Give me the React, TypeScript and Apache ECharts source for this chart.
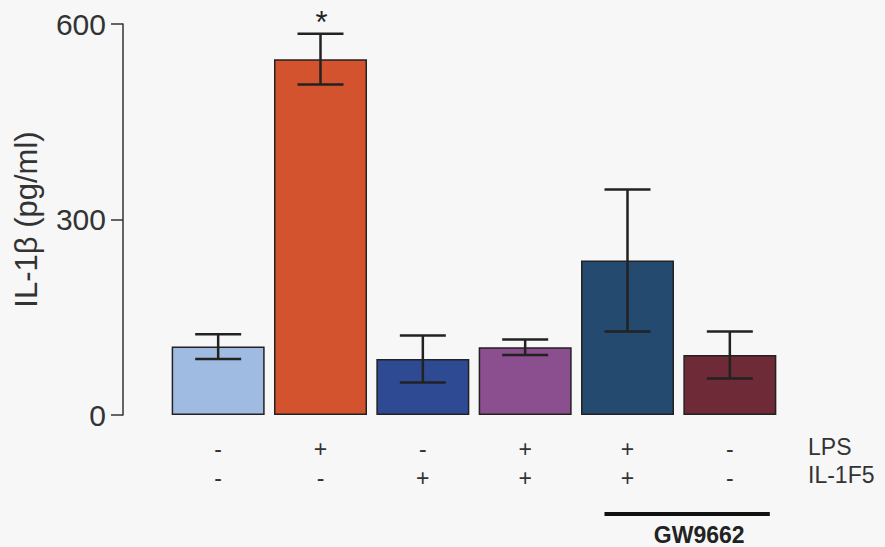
import React, { useEffect, useRef } from "react";
import * as echarts from "echarts";

const categories = ["c1", "c2", "c3", "c4", "c5", "c6"];
const lpsRow = ["-", "+", "-", "+", "+", "-"];
const il1f5Row = ["-", "-", "+", "+", "+", "-"];
const means = [105, 546, 86, 104, 237, 92];
const errors = [19, 39, 36, 12, 109, 36];
const significant = [false, true, false, false, false, false];
const barColors = ["#a0bbe1", "#d4532f", "#2d4a92", "#8b4e8e", "#244a70", "#6e2b37"];
const yMin = 0;
const yMax = 600;
const yInterval = 300;
const rowLabels = ["LPS", "IL-1F5"];
const groupLabel = "GW9662";
const groupRange = [4, 5];

const FONT = "'Liberation Sans', Arial, sans-serif";

export default function App() {
  const ref = useRef<HTMLDivElement>(null);
  useEffect(() => {
    if (!ref.current) return;
    const chart = echarts.init(ref.current, undefined, { renderer: "svg" });
    const option: any = {
      animation: false,
      backgroundColor: "#f7f7f8",
      textStyle: { fontFamily: FONT },
      grid: { left: 167, right: 104, top: 24, bottom: 132 },
      xAxis: {
        type: "category",
        data: categories,
        axisLine: { show: false },
        axisTick: { show: false },
        axisLabel: {
          margin: 19,
          fontSize: 23,
          lineHeight: 29,
          color: "#333",
          fontFamily: FONT,
          formatter: (_v: string, i: number) => `${lpsRow[i]}\n${il1f5Row[i]}`,
        },
      },
      yAxis: {
        type: "value",
        min: yMin,
        max: yMax,
        interval: yInterval,
        offset: 44,
        name: "IL-1β (pg/ml)",
        nameLocation: "middle",
        nameGap: 81,
        nameTextStyle: { fontSize: 31, color: "#333", fontFamily: FONT },
        splitLine: { show: false },
        axisLine: { show: true, lineStyle: { color: "#333", width: 1.5 } },
        axisTick: { show: true, length: 12, lineStyle: { color: "#333", width: 1.5 } },
        axisLabel: { fontSize: 30, color: "#333", margin: 17, fontFamily: FONT },
      },
      series: [
        {
          type: "bar",
          barWidth: 93,
          data: means.map((m, i) => ({
            value: m,
            itemStyle: { color: barColors[i], borderColor: "#222", borderWidth: 1.5 },
          })),
          z: 2,
        },
        {
          type: "custom",
          z: 5,
          data: means.map((m, i) => [i, m, errors[i], significant[i] ? 1 : 0]),
          renderItem: (params: any, api: any) => {
            const x = api.value(0);
            const y = api.value(1);
            const e = api.value(2);
            const sig = api.value(3);
            const top = api.coord([x, y + e]);
            const bot = api.coord([x, y - e]);
            const half = 23;
            const style = { stroke: "#222", lineWidth: 2.5 };
            const children: any[] = [
              { type: "line", shape: { x1: top[0], y1: top[1], x2: bot[0], y2: bot[1] }, style },
              { type: "line", shape: { x1: top[0] - half, y1: top[1], x2: top[0] + half, y2: top[1] }, style },
              { type: "line", shape: { x1: bot[0] - half, y1: bot[1], x2: bot[0] + half, y2: bot[1] }, style },
            ];
            if (sig) {
              children.push({
                type: "text",
                style: {
                  text: "*",
                  x: top[0] + 1,
                  y: top[1] + 4,
                  align: "center",
                  verticalAlign: "bottom",
                  fontSize: 31,
                  fill: "#222",
                  fontFamily: FONT,
                },
              });
            }
            return { type: "group", children };
          },
        },
      ],
    };
    chart.setOption(option);
    const p0 = chart.convertToPixel({ xAxisIndex: 0 }, groupRange[0]) as number;
    const p1 = chart.convertToPixel({ xAxisIndex: 0 }, groupRange[1]) as number;
    const lineX1 = p0 - 23;
    const lineX2 = p1 + 40;
    chart.setOption({
      graphic: [
        { type: "text", x: 808, y: 447, style: { text: rowLabels[0], fontSize: 23, fill: "#333", verticalAlign: "middle", fontFamily: FONT } },
        { type: "text", x: 808, y: 475, style: { text: rowLabels[1], fontSize: 23, fill: "#333", verticalAlign: "middle", fontFamily: FONT } },
        { type: "line", shape: { x1: lineX1, y1: 514, x2: lineX2, y2: 514 }, style: { stroke: "#111", lineWidth: 4 } },
        {
          type: "text",
          x: (lineX1 + lineX2) / 2 + 12,
          y: 546,
          style: { text: groupLabel, fontSize: 23, fontWeight: "bold", fill: "#222", align: "center", verticalAlign: "bottom", fontFamily: FONT },
        },
      ],
    });
    return () => chart.dispose();
  }, []);
  return <div ref={ref} style={{ width: 885, height: 547, position: "absolute", left: 0, top: 0 }} />;
}
